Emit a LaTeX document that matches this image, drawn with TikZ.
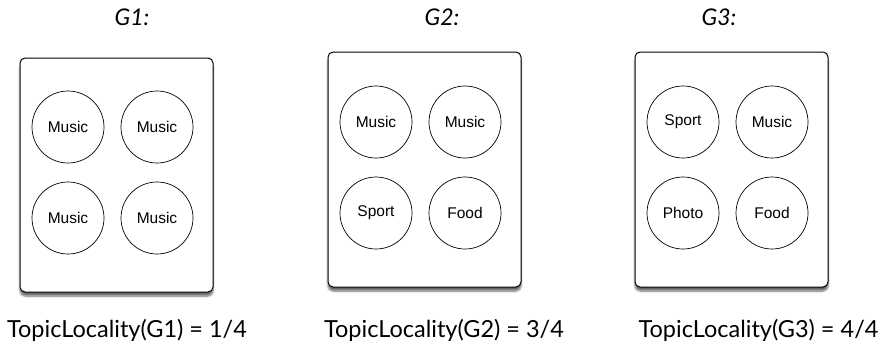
\documentclass[tikz,border=0pt]{standalone}
\usepackage{fontspec}
\setmainfont{Lato}
\newfontfamily\circfont{Liberation Sans}
\usetikzlibrary{shadows.blur}
\begin{document}
\begin{tikzpicture}[x=1pt,y=-1pt,
  panel/.style={draw=black, line width=1pt, fill=white, rounded corners=5pt,
    blur shadow={shadow xshift=0pt, shadow yshift=-4pt, shadow blur steps=6, shadow opacity=60}},
  topic/.style={circle, draw=black, line width=0.7pt, minimum size=72pt, inner sep=0pt,
    font=\circfont\fontsize{15.5}{17}\selectfont},
  title/.style={font=\itshape\fontsize{23}{25}\selectfont},
  result/.style={font=\fontsize{23.5}{26}\selectfont}]
\useasboundingbox (0,0) rectangle (882,349);
% G1
\node[title] (t1) at (132,17) {G1:};
\node[panel, minimum width=193pt, minimum height=234pt, inner sep=0pt] (b1) at (116.5,175) {};
\node[topic] (a1) at (68,127) {Music};
\node[topic] (a2) at (157,127) {Music};
\node[topic] (a3) at (68,218) {Music};
\node[topic] (a4) at (157,218) {Music};
\node[result] (r1) at (127,330) {TopicLocality(G1) = 1/4};
% G2
\node[title] (t2) at (442,17) {G2:};
\node[panel, minimum width=193pt, minimum height=235pt, inner sep=0pt] (b2) at (424.5,169.5) {};
\node[topic] (c1) at (376,122) {Music};
\node[topic] (c2) at (465,122) {Music};
\node[topic] (c3) at (376,213) {Sport};
\node[topic] (c4) at (465,213) {Food};
\node[result] (r2) at (444,330) {TopicLocality(G2) = 3/4};
% G3
\node[title] (t3) at (719,17) {G3:};
\node[panel, minimum width=193pt, minimum height=235pt, inner sep=0pt] (b3) at (731.5,169.5) {};
\node[topic] (d1) at (683,122) {Sport};
\node[topic] (d2) at (772,122) {Music};
\node[topic] (d3) at (683,213) {Photo};
\node[topic] (d4) at (772,213) {Food};
\node[result] (r3) at (758.5,330) {TopicLocality(G3) = 4/4};
\end{tikzpicture}
\end{document}
